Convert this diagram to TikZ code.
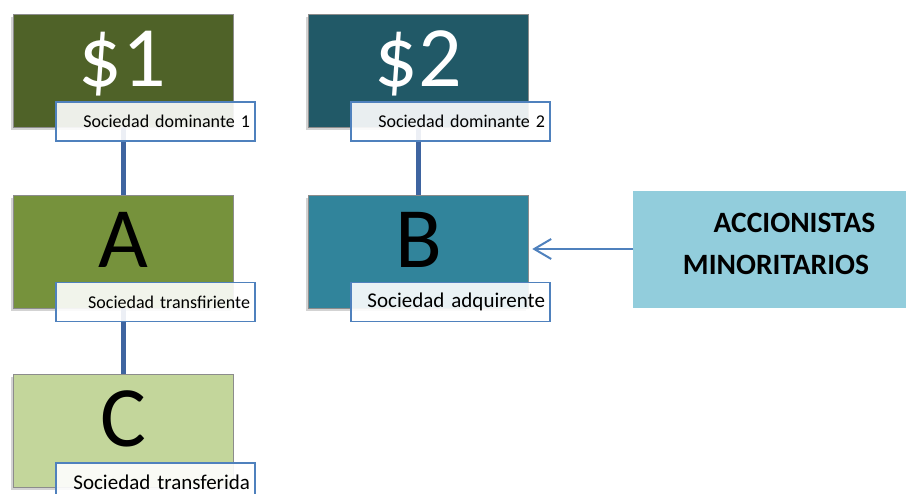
\documentclass[tikz,border=0pt]{standalone}
\usepackage{fontspec}
\setmainfont{Carlito}
\usetikzlibrary{shadows,arrows.meta}
\definecolor{olivedark}{HTML}{4F6228}
\definecolor{tealdark}{HTML}{215967}
\definecolor{olivemid}{HTML}{76923C}
\definecolor{tealmid}{HTML}{31849B}
\definecolor{olivelight}{HTML}{C3D69B}
\definecolor{skyblue}{HTML}{92CDDC}
\definecolor{accentblue}{HTML}{4F81BD}
\definecolor{linkblue}{RGB}{62,100,160}
\tikzset{
  company/.style={rectangle, draw=black!45, line width=0.5pt,
    minimum width=220pt, minimum height=113pt, inner sep=0pt,
    drop shadow={shadow xshift=-2.5pt, shadow yshift=-3pt, opacity=0.35}},
  bigletter/.style={anchor=base, inner sep=0pt, font=\fontsize{86}{86}\selectfont},
  caption/.style={rectangle, draw=accentblue, line width=1.5pt, fill=white,
    fill opacity=0.9, text opacity=1, minimum width=199pt, minimum height=39pt,
    text width=189pt, align=right, inner sep=5pt,
    font=\fontsize{18}{22}\selectfont},
  bigcaption/.style={caption, font=\fontsize{21}{24}\selectfont},
  link/.style={draw=linkblue, line width=5pt},
  shareholders/.style={font=\bfseries\fontsize{29.5}{30}\selectfont, inner sep=0pt},
}
\begin{document}
\begin{tikzpicture}[x=1pt,y=-1pt]
\useasboundingbox (0,0) rectangle (906,494);
\clip (0,0) rectangle (906,494);

% company boxes
\node[company, fill=olivedark] (s1) at (123,71) {};
\node[company, fill=tealdark] (s2) at (418,71) {};
\node[company, fill=olivemid] (a) at (123,251.5) {};
\node[company, fill=tealmid] (b) at (418,251.5) {};
\node[company, fill=olivelight] (c) at (123,430.5) {};

% minority shareholders box
\node[rectangle, fill=skyblue, minimum width=280pt, minimum height=117pt,
      inner sep=0pt, anchor=north west] (acc) at (633,191) {};
\node[shareholders] (acc1) at (794.5,223) {ACCIONISTAS};
\node[shareholders] (acc2) at (776,265) {MINORITARIOS};

% ownership links
\draw[link] (s1.south) -- (a.north);
\draw[link] (a.south) -- (c.north);
\draw[link] (s2.south) -- (b.north);

% arrow from the shareholders
\draw[accentblue, line width=2pt, shorten >=4pt,
      -{Straight Barb[length=17pt,width=20pt,line width=2pt]}]
  (acc.west |- 0,249) coordinate (accin) -- (b.east |- accin);

% large letters
\node[bigletter, text=white] (t1) at (122,87) {\$1};
\node[bigletter, text=white] (t2) at (418,87) {\$2};
\node[bigletter] (ta) at (123,268) {A};
\node[bigletter] (tb) at (419,268) {B};
\node[bigletter] (tc) at (123,447) {C};

% captions
\node[caption] (l1) at (155.5,121.5) {Sociedad dominante 1};
\node[caption] (l2) at (450.5,121.5) {Sociedad dominante 2};
\node[caption] (la) at (155.5,302) {Sociedad transfiriente};
\node[bigcaption] (lb) at (450.5,302) {Sociedad adquirente};
\node[bigcaption] (lc) at (155.5,482.5) {Sociedad transferida};
\end{tikzpicture}
\end{document}
